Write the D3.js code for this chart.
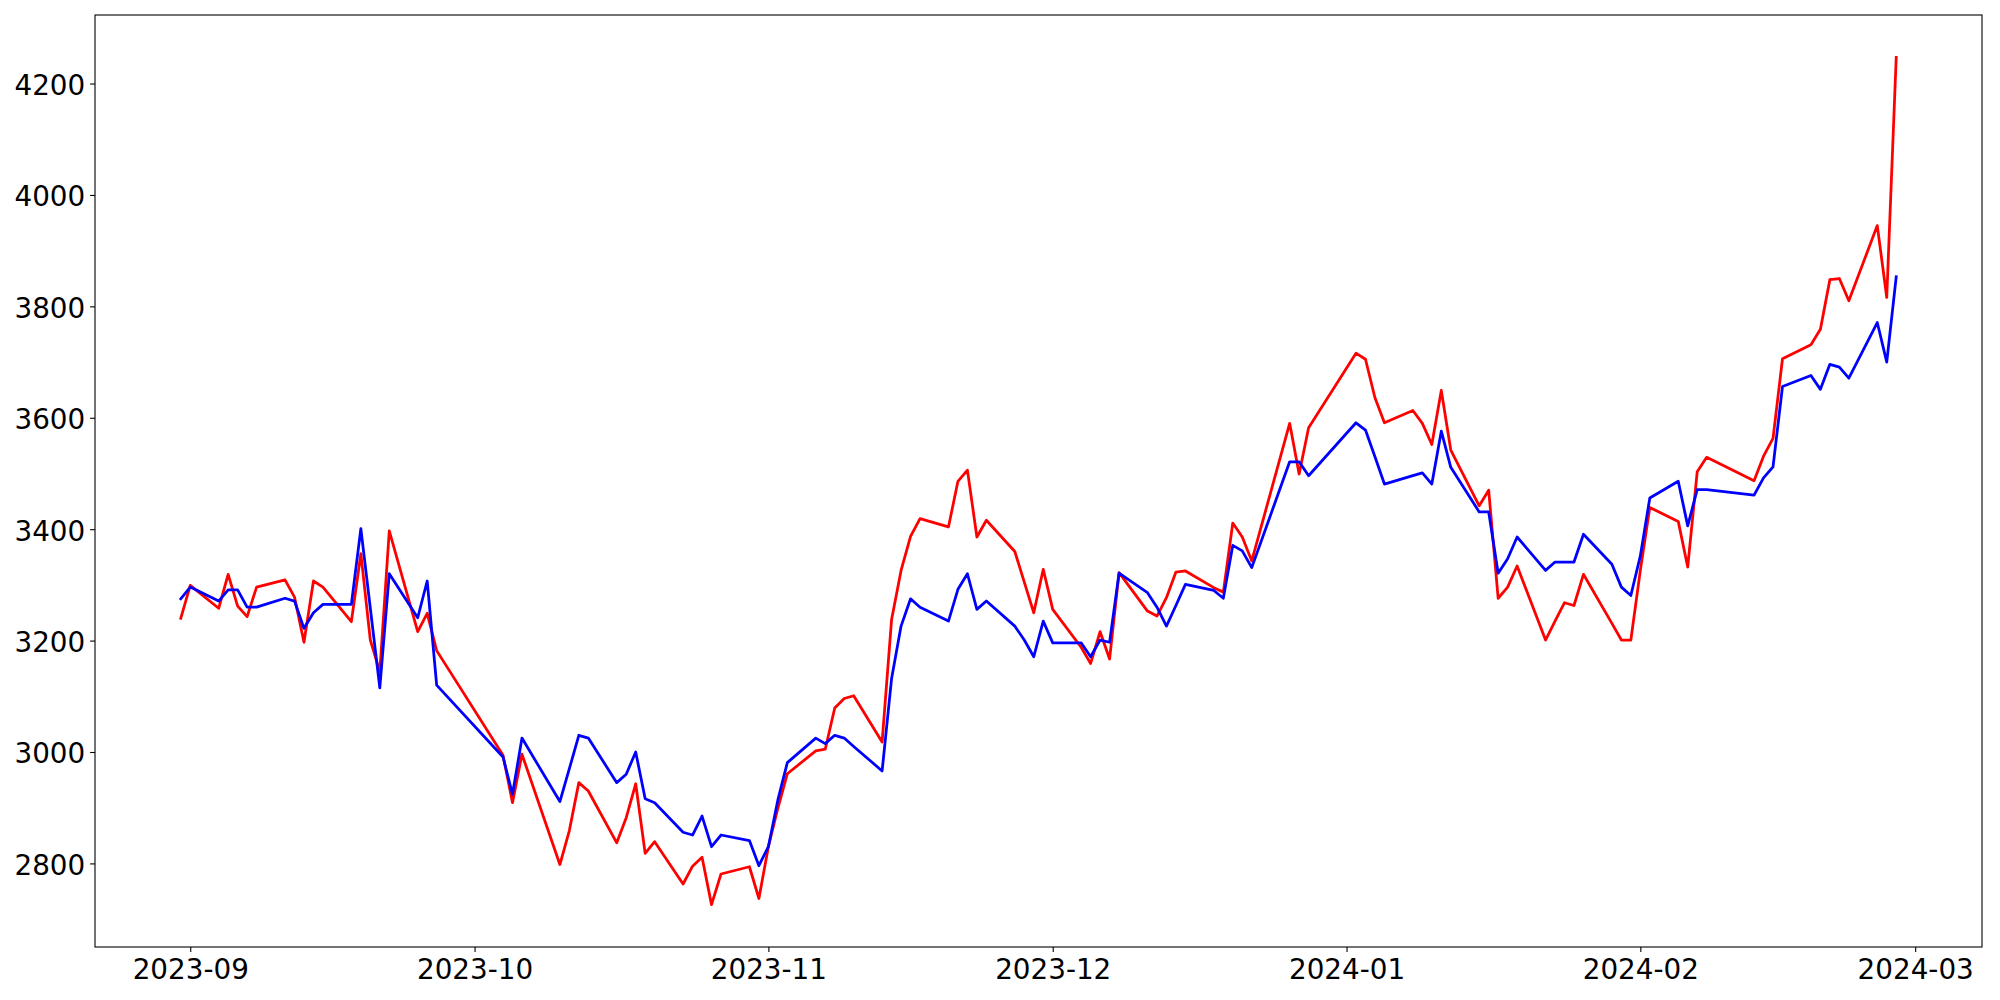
<!DOCTYPE html>
<html>
<head>
<meta charset="utf-8">
<script src="https://cdn.jsdelivr.net/npm/d3@7"></script>
<style>
  html, body { margin: 0; padding: 0; background: #ffffff; }
  svg { display: block; }
</style>
</head>
<body>
<svg id="chart" width="2000" height="1000"></svg>
<script>
const dates = [
  "2023-08-31",
  "2023-09-01","2023-09-04","2023-09-05","2023-09-06","2023-09-07","2023-09-08",
  "2023-09-11","2023-09-12","2023-09-13","2023-09-14","2023-09-15",
  "2023-09-18","2023-09-19","2023-09-20","2023-09-21","2023-09-22",
  "2023-09-25","2023-09-26","2023-09-27",
  "2023-10-04","2023-10-05","2023-10-06",
  "2023-10-10","2023-10-11","2023-10-12","2023-10-13",
  "2023-10-16","2023-10-17","2023-10-18","2023-10-19","2023-10-20",
  "2023-10-23","2023-10-24","2023-10-25","2023-10-26","2023-10-27",
  "2023-10-30","2023-10-31",
  "2023-11-01","2023-11-02","2023-11-03",
  "2023-11-06","2023-11-07","2023-11-08","2023-11-09","2023-11-10",
  "2023-11-13","2023-11-14","2023-11-15","2023-11-16","2023-11-17",
  "2023-11-20","2023-11-21","2023-11-22","2023-11-23","2023-11-24",
  "2023-11-27","2023-11-28","2023-11-29","2023-11-30",
  "2023-12-01",
  "2023-12-04","2023-12-05","2023-12-06","2023-12-07","2023-12-08",
  "2023-12-11","2023-12-12","2023-12-13","2023-12-14","2023-12-15",
  "2023-12-18","2023-12-19","2023-12-20","2023-12-21","2023-12-22",
  "2023-12-26","2023-12-27","2023-12-28",
  "2024-01-02","2024-01-03","2024-01-04","2024-01-05",
  "2024-01-08","2024-01-09","2024-01-10","2024-01-11","2024-01-12",
  "2024-01-15","2024-01-16","2024-01-17","2024-01-18","2024-01-19",
  "2024-01-22","2024-01-23","2024-01-24","2024-01-25","2024-01-26",
  "2024-01-29","2024-01-30","2024-01-31",
  "2024-02-01","2024-02-02",
  "2024-02-05","2024-02-06","2024-02-07","2024-02-08",
  "2024-02-13","2024-02-14","2024-02-15","2024-02-16",
  "2024-02-19","2024-02-20","2024-02-21","2024-02-22","2024-02-23",
  "2024-02-26","2024-02-27","2024-02-28"
];

const redValues = [
  3240,
  3299,3258,3319,3262,3243,3296,
  3309,3278,3197,3307,3296,
  3234,3356,3201,3144,3397,
  3216,3249,3182,
  2994,2909,2996,
  2798,2859,2945,2930,
  2837,2882,2943,2818,2839,
  2763,2795,2811,2726,2781,
  2794,2737,
  2830,2899,2961,
  3002,3005,3079,3096,3101,
  3018,3238,3326,3387,3419,
  3404,3486,3506,3386,3416,
  3360,3305,3250,3328,
  3256,
  3188,3159,3216,3167,3322,
  3253,3244,3277,3323,3325,
  3295,3287,3411,3386,3343,
  3590,3499,3582,
  3716,3705,3636,3591,
  3613,3590,3552,3649,3542,
  3442,3470,3276,3296,3334,
  3201,3235,3268,3263,3319,
  3231,3201,3201,
  3326,3439,
  3414,3332,3503,3529,
  3487,3531,3563,3706,
  3731,3759,3848,3850,3810,
  3945,3816,4247
];

const blueValues = [
  3275,
  3296,3271,3291,3291,3260,3260,
  3276,3271,3222,3250,3265,
  3265,3401,3258,3115,3320,
  3241,3307,3120,
  2991,2924,3025,
  2911,2970,3030,3025,
  2945,2960,3000,2916,2909,
  2856,2851,2885,2830,2851,
  2841,2796,
  2830,2914,2981,
  3025,3015,3030,3025,3010,
  2966,3132,3226,3275,3260,
  3235,3292,3320,3256,3271,
  3226,3201,3171,3235,
  3196,
  3196,3171,3201,3197,3321,
  3286,3260,3226,3263,3301,
  3290,3276,3371,3361,3331,
  3521,3521,3496,
  3591,3578,3530,3481,
  3496,3501,3481,3576,3511,
  3431,3431,3321,3347,3386,
  3326,3341,3341,3341,3391,
  3337,3296,3281,
  3352,3456,
  3486,3406,3471,3471,
  3461,3492,3512,3656,
  3676,3651,3696,3691,3671,
  3771,3700,3853
];

const yTicks = [2800, 3000, 3200, 3400, 3600, 3800, 4000, 4200];
const seriesColors = ["red", "blue"];

// ---- drawing ----
const W = 2000, H = 1000;
const margin = { left: 95, right: 18, top: 15, bottom: 53 };
const iw = W - margin.left - margin.right;
const ih = H - margin.top - margin.bottom;

const parse = d3.timeParse("%Y-%m-%d");
const xs = dates.map(parse);

const series = [redValues, blueValues].map((vals, i) => ({
  color: seriesColors[i],
  points: vals.map((v, j) => ({ x: xs[j], y: v }))
}));

const [x0, x1] = d3.extent(xs);
const xPad = (x1 - x0) * 0.05;
const allY = redValues.concat(blueValues);
const [y0, y1] = d3.extent(allY);
const yPad = (y1 - y0) * 0.05;

const x = d3.scaleTime()
  .domain([new Date(+x0 - xPad), new Date(+x1 + xPad)])
  .range([0, iw]);
const y = d3.scaleLinear()
  .domain([y0 - yPad, y1 + yPad])
  .range([ih, 0]);

const svg = d3.select("#chart");
svg.append("rect").attr("width", W).attr("height", H).attr("fill", "#ffffff");

const g = svg.append("g").attr("transform", `translate(${margin.left},${margin.top})`);

const clip = svg.append("defs").append("clipPath").attr("id", "plotclip");
clip.append("rect").attr("width", iw).attr("height", ih);

const line = d3.line().x(d => x(d.x)).y(d => y(d.y));

const plot = g.append("g").attr("clip-path", "url(#plotclip)");
series.forEach(s => {
  plot.append("path")
    .datum(s.points)
    .attr("fill", "none")
    .attr("stroke", s.color)
    .attr("stroke-width", 2.78)
    .attr("stroke-linejoin", "round")
    .attr("stroke-linecap", "square")
    .attr("d", line);
});

const fontFamily = "'DejaVu Sans', sans-serif";
const fontSize = "27.8px";

const xAxis = d3.axisBottom(x)
  .ticks(d3.timeMonth.every(1))
  .tickFormat(d3.timeFormat("%Y-%m"))
  .tickSizeInner(4.9)
  .tickSizeOuter(0)
  .tickPadding(7.3);

const yAxis = d3.axisLeft(y)
  .tickValues(yTicks)
  .tickFormat(d3.format("d"))
  .tickSizeInner(4.9)
  .tickSizeOuter(0)
  .tickPadding(4.9);

const gx = g.append("g").attr("transform", `translate(0,${ih})`).call(xAxis);
const gy = g.append("g").call(yAxis);

[gx, gy].forEach(ax => {
  ax.select(".domain").remove();
  ax.selectAll(".tick line").attr("stroke", "#000").attr("stroke-width", 1.1);
  ax.selectAll(".tick text")
    .attr("fill", "#000")
    .style("font-family", fontFamily)
    .style("font-size", fontSize);
});
gy.selectAll(".tick text").attr("dy", "0.39em");

g.append("rect")
  .attr("x", 0).attr("y", 0)
  .attr("width", iw).attr("height", ih)
  .attr("fill", "none")
  .attr("stroke", "#000")
  .attr("stroke-width", 1.1);
</script>
</body>
</html>
